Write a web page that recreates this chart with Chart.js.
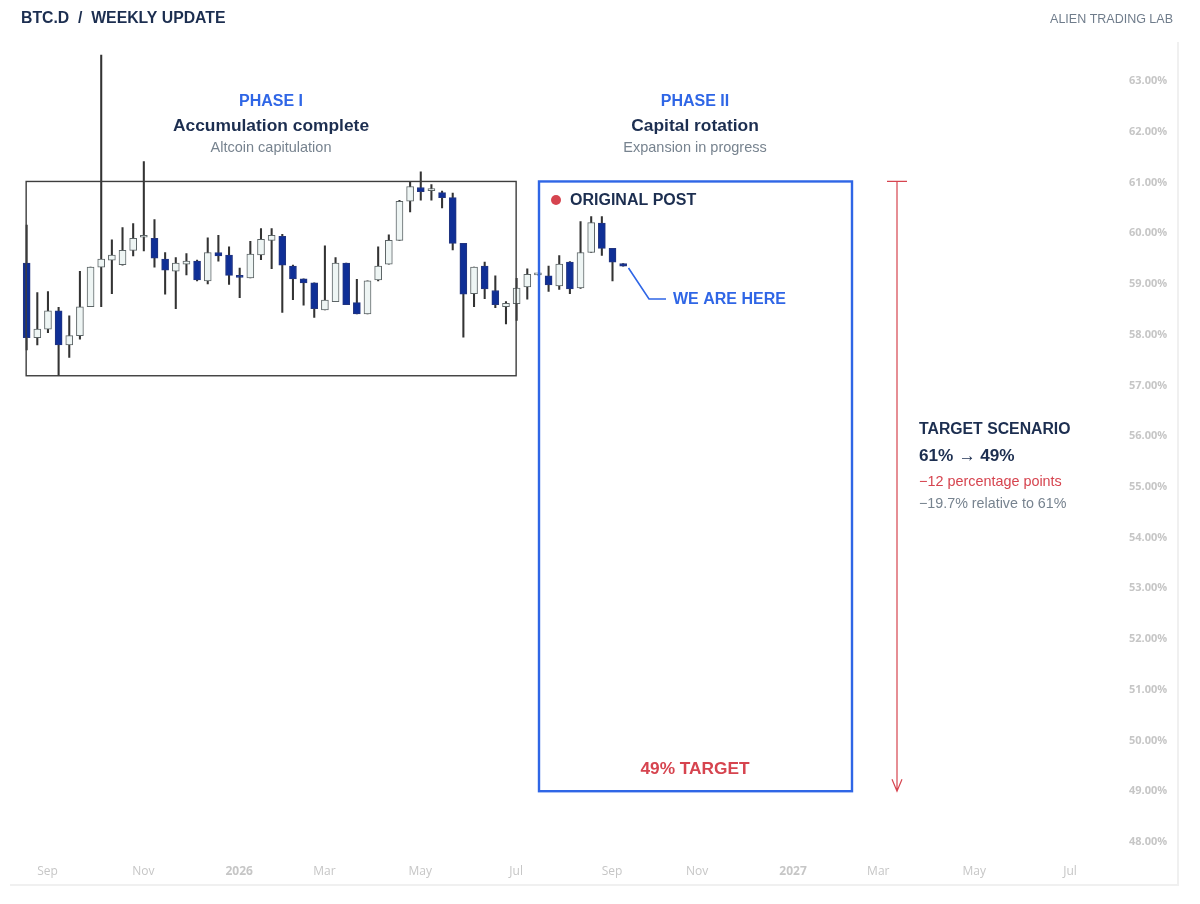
<!DOCTYPE html>
<html><head><meta charset="utf-8">
<style>html,body{margin:0;padding:0;background:#fff}canvas{display:block}</style>
<script src="https://cdn.jsdelivr.net/npm/chart.js@4"></script>
</head><body>
<canvas id="c" width="1200" height="904"></canvas>
<script>
const opens = [59.39,57.92,58.09,58.45,57.78,57.96,58.53,59.31,59.45,59.36,59.64,59.90,59.88,59.47,59.23,59.37,59.43,59.04,59.60,59.55,59.12,59.10,59.55,59.84,59.92,59.33,59.08,59.00,58.47,58.63,59.39,58.61,58.39,59.06,59.37,59.84,60.61,60.88,60.82,60.78,60.68,59.78,58.79,59.33,58.85,58.53,58.59,58.92,59.16,59.14,58.94,59.41,58.90,59.60,60.18,59.68,59.38];
const closes = [57.92,58.09,58.45,57.78,57.96,58.53,59.31,59.47,59.55,59.64,59.88,59.91,59.49,59.25,59.39,59.43,59.06,59.60,59.53,59.15,59.11,59.57,59.86,59.94,59.35,59.08,59.00,58.49,58.66,59.39,58.57,58.39,59.04,59.33,59.84,60.61,60.90,60.80,60.83,60.68,59.78,58.78,59.31,58.88,58.57,58.60,58.90,59.17,59.17,58.96,59.37,58.88,59.60,60.19,59.68,59.41,59.33];
const highs = [60.14,58.81,58.83,58.52,58.35,59.23,59.31,63.49,59.85,60.09,60.17,61.39,60.25,59.60,59.50,59.58,59.45,59.89,59.94,59.71,59.29,59.82,60.07,60.07,59.96,59.35,59.08,59.00,59.73,59.50,59.39,59.07,59.04,59.71,59.95,60.63,61.00,61.19,60.94,60.81,60.77,59.78,59.31,59.41,59.14,58.63,59.09,59.28,59.17,59.33,59.54,59.42,60.21,60.31,60.31,59.68,59.38];
const lows = [57.68,57.78,58.02,57.17,57.53,57.89,58.53,58.53,58.79,59.35,59.53,59.63,59.31,58.78,58.49,59.16,59.04,58.98,59.43,58.97,58.71,59.10,59.46,59.28,58.42,58.67,58.56,58.32,58.47,58.63,58.57,58.39,58.39,59.04,59.37,59.84,60.40,60.63,60.63,60.48,59.65,57.93,58.53,58.69,58.51,58.19,58.26,58.68,59.16,58.83,58.87,58.79,58.89,59.60,59.54,59.04,59.33];
const weekLabels = ['','','Sep','','','','','','','','','Nov','','','','','','','','','2026','','','','','','','','Mar','','','','','','','','','May','','','','','','','','','Jul','','','','','','','','','Sep','','','','','','','','Nov','','','','','','','','','2027','','','','','','','','Mar','','','','','','','','','May','','','','','','','','','Jul',''];
const yTickValues = [48,49,50,51,52,53,54,55,56,57,58,59,60,61,62,63];

const F = '"Liberation Sans", Arial, sans-serif';
const NAVY = '#1c2e50', BLUE = '#2f66e6', RED = '#d6444f', GREY = '#77838f';

const pinArea = {
  id: 'pinArea',
  afterLayout(chart) {
    const L = 21.33, R = 1086.5, T = 29.27, B = 866.3;
    const set = (o, l, t, r, b) => { o.left = l; o.top = t; o.right = r; o.bottom = b; o.width = r - l; o.height = b - t; };
    set(chart.chartArea, L, T, R, B);
    set(chart.scales.x, L, B - 2, R, 904);
    set(chart.scales.y, R, T, 1200, B);
    chart.scales.x.configure();
    chart.scales.y.configure();
  }
};

const overlay = {
  id: 'overlay',
  afterDatasetsDraw(chart) {
    const g = chart.ctx, X = chart.scales.x, Y = chart.scales.y;
    const px = i => X.getPixelForValue(i);
    const text = (s, x, y, font, color, align) => {
      g.font = font + ' ' + F; g.fillStyle = color; g.textAlign = align || 'left';
      g.textBaseline = 'middle'; g.fillText(s, x, y + 1);
    };
    g.save();
    // frame
    g.strokeStyle = '#f0f0f0'; g.lineWidth = 2;
    g.beginPath(); g.moveTo(1178, 42); g.lineTo(1178, 885); g.lineTo(10, 885); g.stroke();
    // phase I box
    g.strokeStyle = '#3d3d3d'; g.lineWidth = 1.4;
    g.strokeRect(px(0) - 0.5, Y.getPixelForValue(61), px(46) - px(0), Y.getPixelForValue(57.17) - Y.getPixelForValue(61));
    // phase II box
    g.strokeStyle = BLUE; g.lineWidth = 2.4;
    g.strokeRect(539, Y.getPixelForValue(61), 313, Y.getPixelForValue(49) - Y.getPixelForValue(61) + 1);
    // target arrow
    const ax = 897, t = Y.getPixelForValue(61), b = Y.getPixelForValue(49);
    g.strokeStyle = RED; g.lineWidth = 1.2;
    g.beginPath();
    g.moveTo(ax - 10, t); g.lineTo(ax + 10, t);
    g.moveTo(ax, t); g.lineTo(ax, b + 1);
    g.moveTo(ax - 5, b - 11); g.lineTo(ax, b + 1); g.lineTo(ax + 5, b - 11);
    g.stroke();
    // connector
    g.strokeStyle = BLUE; g.lineWidth = 1.6;
    g.beginPath(); g.moveTo(628.5, 268); g.lineTo(649, 299); g.lineTo(666, 299); g.stroke();
    // dot
    g.fillStyle = RED; g.beginPath(); g.arc(556, 200, 5, 0, Math.PI * 2); g.fill();
    // text
    text('BTC.D  /  WEEKLY UPDATE', 21, 18, 'bold 15.8px', NAVY);
    text('ALIEN TRADING LAB', 1173, 19, '12.5px', '#6f7c8b', 'right');
    text('PHASE I', 271, 101, 'bold 16px', BLUE, 'center');
    text('Accumulation complete', 271, 125, 'bold 17.4px', NAVY, 'center');
    text('Altcoin capitulation', 271, 147, '14.5px', GREY, 'center');
    text('PHASE II', 695, 101, 'bold 16px', BLUE, 'center');
    text('Capital rotation', 695, 125, 'bold 17.4px', NAVY, 'center');
    text('Expansion in progress', 695, 147, '14.5px', GREY, 'center');
    text('ORIGINAL POST', 570, 200, 'bold 16px', NAVY);
    text('WE ARE HERE', 673, 299, 'bold 16px', BLUE);
    text('49% TARGET', 695, 768, 'bold 17.3px', RED, 'center');
    text('TARGET SCENARIO', 919, 429, 'bold 15.8px', NAVY);
    text('61% → 49%', 919, 455, 'bold 17.2px', NAVY);
    text('−12 percentage points', 919, 481, '14.4px', RED);
    text('−19.7% relative to 61%', 919, 503, '14.3px', GREY);
    g.restore();
  }
};

new Chart(document.getElementById('c'), {
  type: 'bar',
  data: {
    labels: weekLabels,
    datasets: [
      { label: 'Wick', data: lows.map((l, i) => [l, highs[i]]), backgroundColor: '#333', barThickness: 1.4, grouped: false, order: 2 },
      { label: 'Body', data: opens.map((o, i) => [o, closes[i]]),
        backgroundColor: opens.map((o, i) => closes[i] >= o ? '#eef5f4' : '#0f2f96'),
        borderColor: opens.map((o, i) => closes[i] >= o ? '#5d6567' : '#23357f'),
        borderWidth: 1, borderSkipped: false, barThickness: 7, minBarLength: 2, grouped: false, order: 1 }
    ]
  },
  options: {
    responsive: false, animation: false, devicePixelRatio: 1,
    layout: { autoPadding: false, padding: 0 },
    plugins: { legend: { display: false }, tooltip: { enabled: false } },
    scales: {
      x: {
        type: 'category', offset: true,
        grid: { display: false, drawTicks: false }, border: { display: false },
        ticks: {
          autoSkip: false, maxRotation: 0, minRotation: 0, padding: 0, labelOffset: -0.5, color: '#c6c6c6',
          callback(v) { return weekLabels[v]; },
          font(ctx) { const l = weekLabels[ctx.index] || ''; return { family: '"Open Sans"', size: 12, weight: /^\d/.test(l) ? 'bold' : 'normal' }; }
        }
      },
      y: {
        type: 'linear', position: 'right', min: 47.5, max: 64,
        grid: { display: false, drawTicks: false }, border: { display: false },
        afterBuildTicks(s) { s.ticks = yTickValues.map(v => ({ value: v })); },
        ticks: {
          padding: 42.5, labelOffset: 1, color: '#c6c6c6', font: { family: '"Open Sans"', size: 11, weight: 'bold' },
          callback(v) { return v.toFixed(2) + '%'; }
        }
      }
    }
  },
  plugins: [pinArea, overlay]
});
</script>
</body></html>
